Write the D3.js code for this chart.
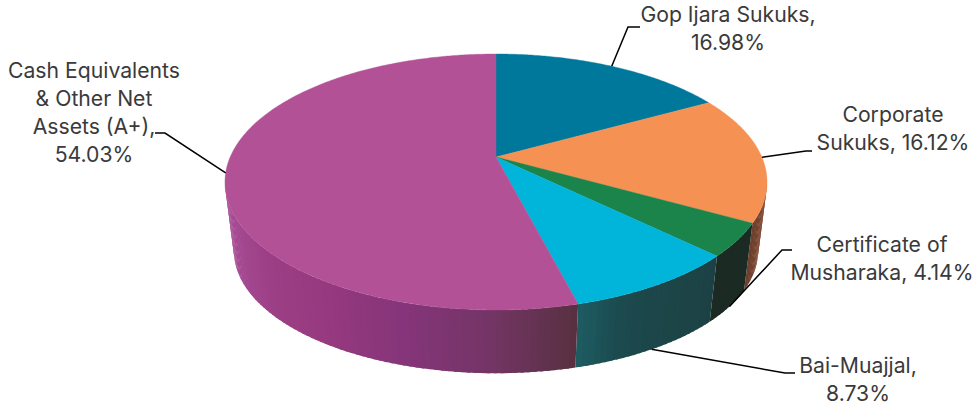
<!DOCTYPE html>
<html>
<head>
<meta charset="utf-8">
<style>
  html, body { margin: 0; padding: 0; background: #fff; }
  svg { display: block; }
  text { font-family: Inter, "Noto Sans", sans-serif; font-size: 21.2px; fill: #3a3a3a; text-anchor: middle; }
</style>
<script src="https://cdn.jsdelivr.net/npm/d3@7/dist/d3.min.js"></script>
</head>
<body>
<svg id="chart" width="979" height="405"></svg>
<script>
const categories = ["Gop Ijara Sukuks", "Corporate Sukuks", "Certificate of Musharaka", "Bai-Muajjal", "Cash Equivalents & Other Net Assets (A+)"];
const shares = [16.98, 16.12, 4.14, 8.73, 54.03];
const faceColors = ["#00789c", "#f59152", "#1a844b", "#00b4da", "#b35197"];
// Shading of the rim wall of each slice, clockwise along its visible arc
const wallShades = [
  ["#005a75", "#005a75"],
  ["#8c5034", "#6c3e2d"],
  ["#1b2b23", "#1b2a22"],
  ["#1c4144", "#1c4447", "#1c4649", "#1c4a4e", "#1d5c62"],
  ["#57303f", "#733565", "#85357a", "#96397f", "#9c3f85", "#a44a92", "#a84f96"]
];
const labelLines = [
  ["Gop Ijara Sukuks,", "16.98%"],
  ["Corporate", "Sukuks, 16.12%"],
  ["Certificate of", "Musharaka, 4.14%"],
  ["Bai-Muajjal,", "8.73%"],
  ["Cash Equivalents", "& Other Net", "Assets (A+),", "54.03%"]
];
const labelCenters = [[728, 15], [893, 115], [882, 245], [858, 366], [94, 71]];
// Leader routing: which rim it leaves from, then elbow and end point
const leaderRim = ["top", "top", "bottom", "bottom", "top"];
const leaderBends = [
  [[628, 27], [640, 27]],
  [[806, 151], [812, 151]],
  [[782, 250], [792, 250]],
  [[785, 373], [795, 373]],
  [[165, 133], [155, 133]]
];

const svg = d3.select("#chart");
const lineHeight = 28;

// Tilted disc: a circle under a perspective, so the hub sits above the ellipse centre
const hub = { x: 496, y: 157 };
const radius = 265.8, persp = -0.1953, yGain = 92.45;
const wallScale = { x: 0.967, y: 0.955, cy: 182, drop: 69 };

function topRim(a) {
  const u = Math.sin(a), v = -Math.cos(a), w = 1 + persp * v;
  return [hub.x + radius * u / w, (yGain * v + hub.y) / w];
}
function bottomRim(a) {
  const [x, y] = topRim(a);
  return [hub.x + (x - hub.x) * wallScale.x, wallScale.cy + wallScale.drop + (y - wallScale.cy) * wallScale.y];
}

const arcs = d3.pie().sort(null).value(d => d)(shares);
const path = d3.line();
const arcPoints = (fn, a0, a1, n) => d3.range(n + 1).map(i => fn(a0 + (a1 - a0) * i / n));

// Rim walls: only the part facing the viewer, built from narrow bands.
// Each band runs slightly under its neighbour so no seams show between them.
const frontStart = 100 * Math.PI / 180, frontEnd = 259 * Math.PI / 180;
const bandStep = 1.2 * Math.PI / 180, bandOverlap = 0.5 * Math.PI / 180;
const walls = svg.append("g").attr("class", "walls");
arcs.forEach((d, i) => {
  const a0 = Math.max(d.startAngle, frontStart), a1 = Math.min(d.endAngle, frontEnd);
  if (a1 <= a0) return;
  const stops = wallShades[i];
  const shade = d3.scaleLinear()
    .domain(stops.map((_, k) => a0 + (a1 - a0) * k / (stops.length - 1)))
    .range(stops)
    .interpolate(d3.interpolateRgb);
  const bands = Math.max(2, Math.round((a1 - a0) / bandStep));
  d3.range(bands).forEach(b => {
    const s0 = a0 + (a1 - a0) * b / bands;
    const s1 = Math.min(a1, a0 + (a1 - a0) * (b + 1) / bands + bandOverlap);
    const outline = arcPoints(topRim, s0, s1, 2).concat(arcPoints(bottomRim, s0, s1, 2).reverse());
    walls.append("path")
      .attr("d", path(outline) + "Z")
      .attr("fill", shade((s0 + s1) / 2));
  });
});

// Top face of the pie
svg.append("g").attr("class", "faces")
  .selectAll("path").data(arcs).join("path")
  .attr("d", d => {
    const n = Math.ceil((d.endAngle - d.startAngle) / 0.01);
    return path([[hub.x, hub.y]].concat(arcPoints(topRim, d.startAngle, d.endAngle, n))) + "Z";
  })
  .attr("fill", (d, i) => faceColors[i])
  .attr("stroke", (d, i) => faceColors[i])
  .attr("stroke-width", 0.4);

// Leader lines from the middle of each slice's rim out to its label
svg.append("g").attr("class", "leaders")
  .selectAll("path").data(arcs).join("path")
  .attr("d", (d, i) => {
    const mid = (d.startAngle + d.endAngle) / 2;
    const start = leaderRim[i] === "top" ? topRim(mid) : bottomRim(mid);
    return path([start].concat(leaderBends[i]));
  })
  .attr("fill", "none")
  .attr("stroke", "#000")
  .attr("stroke-width", 1.5);

// Data labels
const labels = svg.append("g").attr("class", "labels")
  .selectAll("text").data(categories).join("text")
  .attr("data-name", d => d)
  .attr("x", (d, i) => labelCenters[i][0])
  .attr("y", (d, i) => labelCenters[i][1])
  .attr("dy", "0.35em");
labels.selectAll("tspan").data((d, i) => labelLines[i].map(t => ({ t, i }))).join("tspan")
  .attr("x", d => labelCenters[d.i][0])
  .attr("y", (d, k) => labelCenters[d.i][1] + k * lineHeight)
  .attr("dy", "0.35em")
  .text(d => d.t);
</script>
</body>
</html>
